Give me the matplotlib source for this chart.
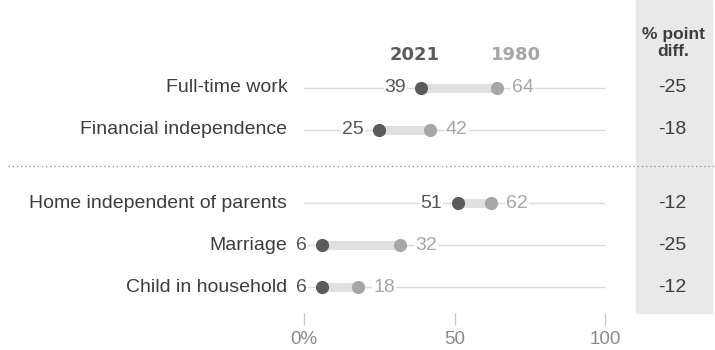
import matplotlib

matplotlib.use("Agg")
import matplotlib.pyplot as plt
from matplotlib.lines import Line2D
from matplotlib.patches import Rectangle

# --------------------------------------------------------------------------- #
# Data
# --------------------------------------------------------------------------- #
categories = [
    "Full-time work",
    "Financial independence",
    "Home independent of parents",
    "Marriage",
    "Child in household",
]
values_2021 = [39, 25, 51, 6, 6]
values_1980 = [64, 42, 62, 32, 18]
diff_labels = ["-25", "-18", "-12", "-25", "-12"]
group_of_row = [0, 0, 1, 1, 1]
x_ticks = [0, 50, 100]
x_tick_labels = ["0%", "50", "100"]

# --------------------------------------------------------------------------- #
# Style
# --------------------------------------------------------------------------- #
W, H = 715, 350
DARK = "#5b5b5b"
LIGHT = "#a6a6a6"
TEXT = "#3d3d3d"
BAND = "#e9e9e9"
GRID = "#dadada"
BAR = "#e0e0e0"
GAP = 0.74
plt.rcParams["font.family"] = ["Liberation Sans", "DejaVu Sans"]


def px(x, y, w, h):
    """Pixel box (top-left origin) -> figure fraction rect."""
    return [x / W, 1 - (y + h) / H, w / W, h / H]


fig = plt.figure(figsize=(W / 100, H / 100), dpi=100)

# grey band behind the difference column
fig.patches.append(Rectangle((636 / W, 1 - 313 / H), 76 / W, 313 / H,
                             transform=fig.transFigure, color=BAND, zorder=-1))

ax = fig.add_axes(px(304, 30, 301, 295))
ax.set_facecolor("none")
ax.set_xlim(0, 100)
ypos = [i + GAP * g for i, g in enumerate(group_of_row)]
row_px = 42.0
ax.set_ylim((325 - 88) / row_px, -(88 - 30) / row_px)

for y, cat, a, b in zip(ypos, categories, values_2021, values_1980):
    ax.axhline(y, color=GRID, lw=1, zorder=1)
    ax.plot([a, b], [y, y], color=BAR, lw=6.5, solid_capstyle="butt", zorder=2)
    ax.scatter([b], [y], s=90, color=LIGHT, zorder=3, linewidths=0)
    ax.scatter([a], [y], s=90, color=DARK, zorder=4, linewidths=0)
    ax.annotate(str(a), (a, y), xytext=(-11, 0), textcoords="offset points",
                ha="right", va="center", fontsize=14, color="#555555",
                bbox=dict(boxstyle="square,pad=0.05", fc="white", ec="none"))
    ax.annotate(str(b), (b, y), xytext=(11, 0), textcoords="offset points",
                ha="left", va="center", fontsize=14, color=LIGHT,
                bbox=dict(boxstyle="square,pad=0.05", fc="white", ec="none"))
    ax.annotate(cat, (0, y), xytext=(-12, 0), textcoords="offset points",
                ha="right", va="center", fontsize=14, color=TEXT,
                annotation_clip=False)

# column headers above the first row
ax.annotate("2021", (values_2021[0], ypos[0]), xytext=(-5, 24),
            textcoords="offset points", ha="center", va="center",
            fontsize=13, fontweight="bold", color=DARK, family="DejaVu Sans")
ax.annotate("1980", (values_1980[0], ypos[0]), xytext=(14, 24),
            textcoords="offset points", ha="center", va="center",
            fontsize=13, fontweight="bold", color=LIGHT, family="DejaVu Sans")

# difference column
for y, d in zip(ypos, diff_labels):
    ax.annotate(d, (100, y), xytext=(48.5, 0), textcoords="offset points",
                ha="center", va="center", fontsize=14, color=TEXT,
                annotation_clip=False)
fig.text(673 / W, 1 - 43 / H, "% point\ndiff.", ha="center", va="center",
         fontsize=12.5, fontweight="bold", color=TEXT, linespacing=1.1)

# dotted separator between the two groups
fig.add_artist(Line2D([8 / W, 1], [1 - 166 / H] * 2, transform=fig.transFigure,
                      color="#9a9a9a", lw=1, linestyle=(0, (1, 2))))

for s in ax.spines.values():
    s.set_visible(False)
ax.set_yticks([])
ax.set_xticks(x_ticks, x_tick_labels)
ax.tick_params(axis="x", direction="in", length=9, width=1, color="#c8c8c8",
               labelsize=13.5, labelcolor="#8a8a8a", pad=4)

fig.savefig("out.png", dpi=100)
